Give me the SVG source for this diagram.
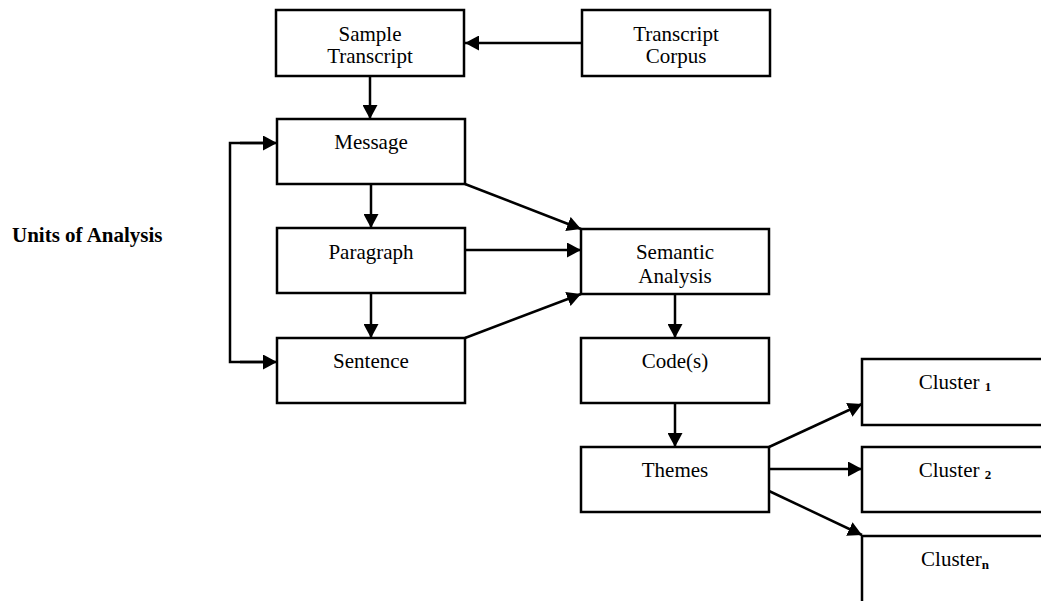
<svg xmlns="http://www.w3.org/2000/svg" width="1041" height="601" viewBox="0 0 1041 601">
  <style>
    .box { fill: #fff; stroke: #000; stroke-width: 2.5; }
    .lbl { font-family: "Liberation Serif", "Times New Roman", serif; font-size: 21px; fill: #000; text-anchor: middle; }
    .sub { font-size: 13px; font-weight: bold; }
    .head { font-family: "Liberation Serif", "Times New Roman", serif; font-size: 21px; font-weight: bold; fill: #000; }
    .edge { fill: none; stroke: #000; stroke-width: 2.5; marker-end: url(#arrow); }
    .plain { fill: none; stroke: #000; stroke-width: 2.5; }
  </style>
  <defs>
    <marker id="arrow" viewBox="0 0 14 15" refX="14" refY="7.5" markerWidth="14" markerHeight="15" markerUnits="userSpaceOnUse" orient="auto">
      <path d="M0,0 L14,7.5 L0,15 Z" fill="#000"/>
    </marker>
  </defs>

  <text class="head" x="12" y="242">Units of Analysis</text>

  <g id="sample-transcript">
    <rect class="box" x="276" y="10" width="188" height="66"/>
    <text class="lbl" x="370" y="41">Sample</text>
    <text class="lbl" x="370" y="63">Transcript</text>
  </g>
  <g id="transcript-corpus">
    <rect class="box" x="582" y="10" width="188" height="66"/>
    <text class="lbl" x="676" y="41">Transcript</text>
    <text class="lbl" x="676" y="63">Corpus</text>
  </g>
  <g id="message">
    <rect class="box" x="277" y="119" width="188" height="65"/>
    <text class="lbl" x="371" y="149">Message</text>
  </g>
  <g id="paragraph">
    <rect class="box" x="277" y="228" width="188" height="65"/>
    <text class="lbl" x="371" y="259">Paragraph</text>
  </g>
  <g id="sentence">
    <rect class="box" x="277" y="338" width="188" height="65"/>
    <text class="lbl" x="371" y="368">Sentence</text>
  </g>
  <g id="semantic-analysis">
    <rect class="box" x="581" y="229" width="188" height="65"/>
    <text class="lbl" x="675" y="259">Semantic</text>
    <text class="lbl" x="675" y="283">Analysis</text>
  </g>
  <g id="codes">
    <rect class="box" x="581" y="338" width="188" height="65"/>
    <text class="lbl" x="675" y="368">Code(s)</text>
  </g>
  <g id="themes">
    <rect class="box" x="581" y="447" width="188" height="65"/>
    <text class="lbl" x="675" y="477">Themes</text>
  </g>
  <g id="cluster-1">
    <rect class="box" x="862" y="359" width="200" height="66"/>
    <text class="lbl" x="955" y="389">Cluster <tspan class="sub" dy="2">1</tspan></text>
  </g>
  <g id="cluster-2">
    <rect class="box" x="862" y="447" width="200" height="65"/>
    <text class="lbl" x="955" y="477">Cluster <tspan class="sub" dy="2">2</tspan></text>
  </g>
  <g id="cluster-n">
    <rect class="box" x="862" y="536" width="200" height="80"/>
    <text class="lbl" x="955" y="566">Cluster<tspan class="sub" dy="3">n</tspan></text>
  </g>

  <g id="connectors">
    <path class="edge" d="M582,43 H465"/>
    <path class="edge" d="M370,76 V119"/>
    <path class="plain" d="M264,143 H230 V362 H264"/>
    <path class="edge" d="M240,143 H277"/>
    <path class="edge" d="M240,362 H277"/>
    <path class="edge" d="M371,184 V228"/>
    <path class="edge" d="M371,293 V338"/>
    <path class="edge" d="M465,184 L581,229"/>
    <path class="edge" d="M465,250 H581"/>
    <path class="edge" d="M465,338 L581,294"/>
    <path class="edge" d="M675,294 V338"/>
    <path class="edge" d="M675,403 V447"/>
    <path class="edge" d="M769,447 L862,404"/>
    <path class="edge" d="M769,469 H862"/>
    <path class="edge" d="M769,491 L862,535"/>
  </g>
</svg>
